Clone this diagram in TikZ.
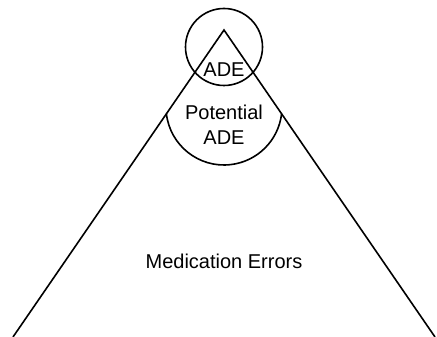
\documentclass[tikz,border=0pt]{standalone}
\usepackage{fontspec}
\setmainfont{Liberation Sans}
\begin{document}
\begin{tikzpicture}[x=1pt,y=1pt,
  line/.style={draw=black,line width=1.6pt},
  lbl/.style={font=\fontsize{20}{25}\selectfont,inner sep=0pt,align=center}]
\useasboundingbox (0,0) rectangle (437,337);
\coordinate (apex) at (224,307);
\coordinate (bl) at (13,0);
\coordinate (br) at (435,0);
\draw[line] (bl) -- (apex) -- (br);
\node[line,circle,minimum size=77pt,inner sep=0pt] (adecirc) at (224,290) {};
\coordinate (pc) at (224,230);
\draw[line] (pc) ++(186.5:58) arc[start angle=186.5,end angle=353.5,radius=58];
\node[lbl] (ade) at (224,267) {ADE};
\node[lbl] (pade) at (224,212.5) {Potential\\ADE};
\node[lbl] (me) at (224,75.5) {Medication Errors};
\end{tikzpicture}
\end{document}
